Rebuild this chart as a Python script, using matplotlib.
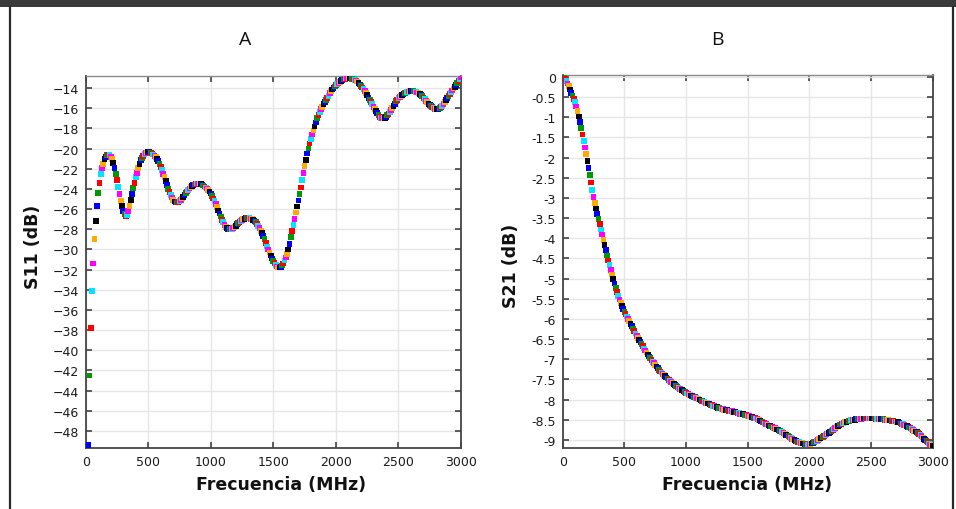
import numpy as np
import matplotlib
matplotlib.use("Agg")
import matplotlib.pyplot as plt
from matplotlib.patches import Rectangle
from matplotlib.lines import Line2D

# ---------------- data ----------------
freq_a = np.arange(20, 3001, 10)  # MHz
s11_db = [
    -49.4, -42.5, -37.8, -34.1, -31.4, -29.0, -27.2, -25.7,
    -24.4, -23.4, -22.5, -21.9, -21.5, -21.0, -20.8, -20.65, -20.6, -20.65,
    -20.8, -21.0, -21.4, -21.9, -22.5, -23.1, -23.8, -24.5, -25.2, -25.7,
    -26.2, -26.5, -26.7, -26.6, -26.2, -25.7, -25.1, -24.5, -23.9, -23.4,
    -22.8, -22.4, -21.9, -21.5, -21.1, -20.9, -20.7, -20.55, -20.45, -20.4,
    -20.35, -20.35, -20.4, -20.5, -20.6, -20.7, -20.85, -21.0, -21.2, -21.5,
    -21.8, -22.15, -22.5, -22.85, -23.2, -23.6, -24.0, -24.3, -24.6, -24.85,
    -25.1, -25.25, -25.3, -25.35, -25.3, -25.2, -25.1, -24.95, -24.8, -24.6,
    -24.4, -24.25, -24.1, -23.95, -23.8, -23.7, -23.6, -23.55, -23.5, -23.45,
    -23.45, -23.45, -23.5, -23.55, -23.65, -23.75, -23.85, -23.95, -24.1, -24.25,
    -24.45, -24.7, -24.95, -25.2, -25.5, -25.8, -26.15, -26.45, -26.75, -27.05,
    -27.3, -27.55, -27.75, -27.85, -27.95, -28.0, -28.0, -27.95, -27.85, -27.75,
    -27.65, -27.5, -27.35, -27.25, -27.15, -27.05, -27.0, -26.95, -26.9, -26.9,
    -26.9, -26.9, -26.95, -27.0, -27.1, -27.2, -27.3, -27.45, -27.65, -27.9,
    -28.15, -28.4, -28.7, -29.0, -29.35, -29.7, -30.0, -30.3, -30.6, -30.9,
    -31.15, -31.35, -31.55, -31.7, -31.8, -31.8, -31.75, -31.6, -31.4, -31.1,
    -30.8, -30.45, -30.0, -29.45, -28.8, -28.15, -27.55, -26.95, -26.35, -25.75,
    -25.15, -24.5, -23.85, -23.15, -22.45, -21.75, -21.1, -20.5, -20.0, -19.5,
    -19.05, -18.6, -18.2, -17.8, -17.4, -17.0, -16.7, -16.4, -16.1, -15.85,
    -15.6, -15.4, -15.2, -14.95, -14.75, -14.5, -14.3, -14.15, -14.0, -13.85,
    -13.7, -13.6, -13.5, -13.4, -13.3, -13.2, -13.15, -13.1, -13.05, -13.0,
    -13.0, -13.0, -13.05, -13.1, -13.15, -13.2, -13.25, -13.35, -13.5, -13.65,
    -13.8, -13.95, -14.1, -14.3, -14.5, -14.7, -14.95, -15.15, -15.4, -15.6,
    -15.85, -16.05, -16.3, -16.5, -16.7, -16.85, -16.95, -17.0, -17.0, -16.95,
    -16.85, -16.7, -16.55, -16.4, -16.2, -16.0, -15.75, -15.55, -15.3, -15.15,
    -15.0, -14.85, -14.75, -14.65, -14.55, -14.5, -14.45, -14.4, -14.35, -14.3,
    -14.3, -14.3, -14.3, -14.35, -14.4, -14.45, -14.5, -14.6, -14.7, -14.8,
    -14.95, -15.1, -15.25, -15.4, -15.55, -15.65, -15.8, -15.9, -16.0, -16.05,
    -16.1, -16.1, -16.05, -16.0, -15.9, -15.75, -15.6, -15.4, -15.2, -15.0,
    -14.8, -14.6, -14.45, -14.25, -14.05, -13.9, -13.7, -13.5, -13.3, -13.1,
    -12.9,
]

freq_b = np.arange(0, 3001, 10)  # MHz
s21_db = [
    0.00, -0.02, -0.05, -0.10, -0.16, -0.23, -0.31, -0.39, -0.46, -0.54,
    -0.63, -0.73, -0.85, -0.98, -1.12, -1.27, -1.43, -1.59, -1.75, -1.91,
    -2.08, -2.26, -2.44, -2.62, -2.80, -2.97, -3.12, -3.26, -3.39, -3.52,
    -3.65, -3.78, -3.91, -4.04, -4.17, -4.30, -4.43, -4.55, -4.67, -4.79,
    -4.90, -5.01, -5.12, -5.23, -5.33, -5.43, -5.52, -5.60, -5.68, -5.75,
    -5.82, -5.88, -5.94, -6.00, -6.06, -6.12, -6.18, -6.24, -6.30, -6.36,
    -6.42, -6.48, -6.53, -6.58, -6.63, -6.68, -6.73, -6.78, -6.83, -6.88,
    -6.93, -6.97, -7.01, -7.06, -7.10, -7.14, -7.18, -7.22, -7.26, -7.30,
    -7.33, -7.36, -7.39, -7.42, -7.45, -7.48, -7.51, -7.54, -7.56, -7.59,
    -7.61, -7.64, -7.66, -7.68, -7.71, -7.73, -7.75, -7.77, -7.79, -7.81,
    -7.83, -7.85, -7.86, -7.88, -7.90, -7.91, -7.93, -7.94, -7.96, -7.97,
    -7.99, -8.00, -8.02, -8.03, -8.05, -8.06, -8.08, -8.09, -8.10, -8.11,
    -8.13, -8.14, -8.15, -8.16, -8.18, -8.19, -8.20, -8.21, -8.22, -8.23,
    -8.24, -8.25, -8.25, -8.26, -8.27, -8.28, -8.28, -8.29, -8.30, -8.31,
    -8.31, -8.32, -8.33, -8.34, -8.35, -8.35, -8.36, -8.37, -8.38, -8.39,
    -8.40, -8.41, -8.42, -8.43, -8.44, -8.45, -8.46, -8.47, -8.49, -8.50,
    -8.52, -8.54, -8.55, -8.57, -8.59, -8.61, -8.62, -8.64, -8.65, -8.67,
    -8.68, -8.70, -8.71, -8.73, -8.74, -8.76, -8.77, -8.79, -8.81, -8.83,
    -8.85, -8.87, -8.89, -8.91, -8.93, -8.95, -8.97, -8.99, -9.01, -9.03,
    -9.04, -9.05, -9.06, -9.07, -9.08, -9.09, -9.10, -9.10, -9.11, -9.11,
    -9.10, -9.10, -9.09, -9.07, -9.06, -9.04, -9.02, -9.00, -8.98, -8.96,
    -8.94, -8.92, -8.90, -8.88, -8.86, -8.84, -8.82, -8.80, -8.78, -8.75,
    -8.73, -8.71, -8.68, -8.66, -8.64, -8.62, -8.61, -8.59, -8.57, -8.56,
    -8.55, -8.54, -8.53, -8.52, -8.51, -8.51, -8.50, -8.50, -8.49, -8.49,
    -8.48, -8.48, -8.48, -8.47, -8.47, -8.47, -8.47, -8.47, -8.47, -8.47,
    -8.47, -8.47, -8.47, -8.47, -8.48, -8.48, -8.48, -8.48, -8.49, -8.49,
    -8.49, -8.50, -8.50, -8.51, -8.51, -8.52, -8.52, -8.53, -8.53, -8.54,
    -8.54, -8.55, -8.56, -8.57, -8.59, -8.60, -8.61, -8.63, -8.64, -8.66,
    -8.68, -8.69, -8.71, -8.73, -8.75, -8.77, -8.79, -8.81, -8.83, -8.86,
    -8.88, -8.91, -8.94, -8.97, -9.00, -9.03, -9.06, -9.09, -9.11, -9.13,
    -9.15,
]

x_ticks = [0, 500, 1000, 1500, 2000, 2500, 3000]
y_ticks_a = list(range(-48, -13, 2))
y_ticks_b = [0, -0.5, -1, -1.5, -2, -2.5, -3, -3.5, -4, -4.5, -5, -5.5,
             -6, -6.5, -7, -7.5, -8, -8.5, -9]
y_tick_labels_b = ["0", "-0.5", "-1", "-1.5", "-2", "-2.5", "-3", "-3.5", "-4",
                   "-4.5", "-5", "-5.5", "-6", "-6.5", "-7", "-7.5", "-8",
                   "-8.5", "-9"]

panel_titles = ["A", "B"]
x_label = "Frecuencia (MHz)"
y_labels = ["S11 (dB)", "S21 (dB)"]

marker_cycle = ["#0000ff", "#009900", "#ff0000", "#00e6ff",
                "#ff00ff", "#ffaa00", "#000000"]

assert len(s11_db) == len(freq_a)
assert len(s21_db) == len(freq_b)

# ---------------- figure ----------------
W, H = 956, 510
fig = plt.figure(figsize=(W / 100, H / 100), dpi=100)
fig.patch.set_facecolor("white")

# screenshot frame: dark top bar and side borders
fig.add_artist(Rectangle((0, 1 - 8 / H), 1, 8 / H, transform=fig.transFigure,
                         facecolor="#3a3a3a", edgecolor="none"))
for xb in (10 / W, 952.5 / W):
    fig.add_artist(Line2D([xb, xb], [0, 1 - 8 / H], transform=fig.transFigure,
                          color="#2a2a2a", lw=1.6))


def px_axes(l, r, t, b):
    return [l / W, 1 - b / H, (r - l) / W, (b - t) / H]


ax_a = fig.add_axes(px_axes(85.7, 461.0, 77.0, 449.0))
ax_b = fig.add_axes(px_axes(562.7, 932.7, 75.5, 449.0))


def style(ax):
    ax.set_facecolor("white")
    ax.grid(True, color="#e6e6e6", lw=1.0, zorder=0)
    ax.set_axisbelow(True)
    for s in ax.spines.values():
        s.set_color("#454545")
        s.set_linewidth(1.3)
    ax.spines["top"].set_color("#8a8a8a")
    ax.spines["top"].set_linewidth(1.0)
    ax.tick_params(direction="in", length=4, width=1.1, color="#333333",
                   top=True, right=True, labelsize=9, labelcolor="#1a1a1a",
                   pad=5)
    ax.set_xticks(x_ticks)
    ax.set_xlim(0, 3000)


def draw(ax, f, v):
    cols = [marker_cycle[i % len(marker_cycle)] for i in range(len(f))]
    ax.scatter(f, v, s=17, marker="s", c=cols, linewidths=0, zorder=3,
               clip_on=True)


# Panel A
style(ax_a)
draw(ax_a, freq_a, s11_db)
ax_a.set_yticks(y_ticks_a)
ax_a.set_ylim(-49.7, -12.8)

# Panel B
style(ax_b)
draw(ax_b, freq_b, s21_db)
ax_b.set_yticks(y_ticks_b)
ax_b.set_yticklabels(y_tick_labels_b)
ax_b.set_ylim(-9.2, 0.06)

label_font = dict(fontsize=12.5, fontweight="bold", color="#111111",
                  family="DejaVu Sans")
for ax, yl, xc in ((ax_a, y_labels[0], 281.5), (ax_b, y_labels[1], 747.5)):
    l, b, w, h = ax.get_position().bounds
    ax.set_xlabel(x_label, **label_font)
    ax.xaxis.set_label_coords((xc / W - l) / w, ((1 - 476 / H) - b) / h)
    ax.set_ylabel(yl, va="center", **label_font)

for ax, xpx, ypx in ((ax_a, 33, 247), (ax_b, 511, 266)):
    l, b, w, h = ax.get_position().bounds
    ax.yaxis.set_label_coords((xpx / W - l) / w, ((1 - ypx / H) - b) / h)

fig.text(245 / W, 1 - 40 / H, panel_titles[0], ha="center", va="center",
         fontsize=14, family="Open Sans", color="#111111")
fig.text(717 / W, 1 - 40 / H, panel_titles[1], ha="center", va="center",
         fontsize=14, family="Open Sans", color="#111111")

fig.savefig("out.png", dpi=100, facecolor="white")
